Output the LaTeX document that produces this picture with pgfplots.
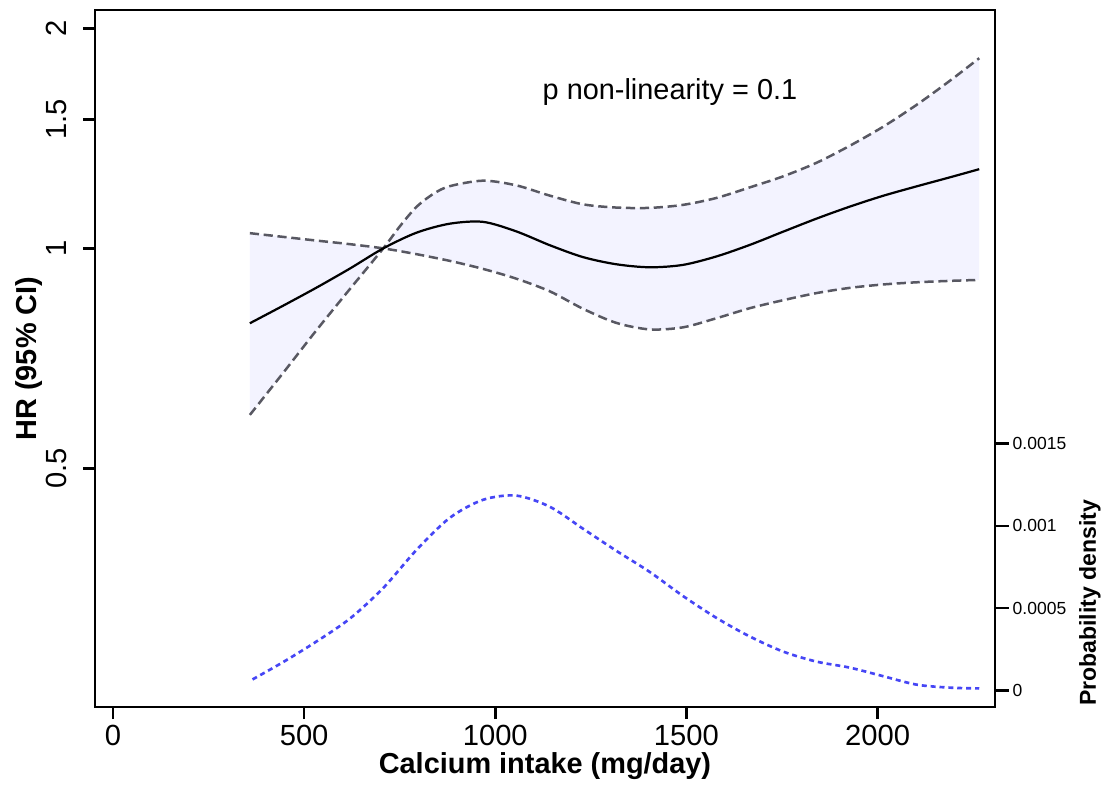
\documentclass[border=0pt]{standalone}
\usepackage{fontspec}
\setmainfont{Liberation Sans}
\usepackage{pgfplots}
\usepackage{pgfplotstable}
\pgfplotsset{compat=1.18}
\usepgfplotslibrary{fillbetween}
\usetikzlibrary{calc}
\definecolor{cigray}{RGB}{88,88,98}
\definecolor{cifill}{RGB}{243,243,255}
\definecolor{dens}{RGB}{70,70,245}

\pgfplotstableread{
x hr
358 0.5918
445 0.6755
532 0.7725
620 0.8802
707 1.0000
751 1.0730
794 1.1397
838 1.1873
881 1.2165
968 1.2377
1055 1.2196
1143 1.1806
1230 1.1487
1317 1.1372
1404 1.1361
1491 1.1469
1579 1.1724
1666 1.2119
1753 1.2547
1840 1.3092
1927 1.3812
2014 1.4664
2102 1.5716
2189 1.6952
2266 1.8207
}\upperci

\pgfplotstableread{
x hr
358 1.0491
445 1.0369
532 1.0249
620 1.0133
707 1.0000
794 0.9819
881 0.9614
968 0.9374
1055 0.9090
1143 0.8733
1230 0.8265
1317 0.7908
1404 0.7748
1491 0.7799
1579 0.8026
1666 0.8283
1753 0.8494
1840 0.8686
1927 0.8830
2014 0.8925
2102 0.8987
2189 0.9027
2266 0.9055
}\lowerci

\pgfplotstableread{
x hr
358 0.7900
445 0.8348
532 0.8835
620 0.9386
707 1.0000
794 1.0507
881 1.0809
968 1.0871
1055 1.0550
1143 1.0098
1230 0.9727
1317 0.9511
1404 0.9422
1491 0.9493
1579 0.9751
1666 1.0111
1753 1.0540
1840 1.0981
1927 1.1404
2014 1.1799
2102 1.2157
2189 1.2507
2266 1.2834
}\hrcurve

\pgfplotstableread{
x d
365 6.69e-5
445 1.721e-4
532 2.968e-4
620 4.368e-4
707 6.223e-4
794 8.534e-4
881 1.0481e-3
968 1.1576e-3
1055 1.1831e-3
1143 1.1150e-3
1230 9.812e-4
1317 8.474e-4
1404 7.196e-4
1491 5.736e-4
1579 4.398e-4
1666 3.273e-4
1753 2.360e-4
1840 1.752e-4
1927 1.387e-4
2014 8.70e-5
2102 3.53e-5
2189 1.70e-5
2266 1.22e-5
}\density

\begin{document}
\begin{tikzpicture}
\begin{axis}[name=main,
  width=324pt, height=251pt, scale only axis,
  xmin=-47.1, xmax=2307.1,
  ymode=log, ymin=0.2357, ymax=2.119,
  xtick={0,500,1000,1500,2000}, xticklabels={0,500,1000,1500,2000},
  ytick={0.5,1,1.5,2}, yticklabels={0.5,1,1.5,2},
  minor tick num=0,
  xtick pos=bottom, ytick pos=left,
  tick align=outside, major tick length=4.3pt,
  axis line style={line width=0.9pt},
  every tick/.style={black, line width=0.9pt},
  /pgf/number format/assume math mode=true,
  tick label style={font=\fontsize{10.5}{12}\selectfont},
  xticklabel style={yshift=1.2pt},
  yticklabel style={rotate=90, anchor=south, inner sep=5.7pt},
  xlabel={Calcium intake (mg/day)},
  ylabel={HR (95\% CI)},
  label style={font=\fontsize{10.4}{12}\selectfont\bfseries},
  xlabel style={at={(rel axis cs:0.5,0)}, anchor=center, yshift=-21.1pt},
  ylabel style={at={(rel axis cs:0,0.5)}, anchor=center, yshift=23.9pt},
]
\addplot[name path=upper, draw=none, smooth, forget plot] table[x=x, y=hr] {\upperci};
\addplot[name path=lower, draw=none, smooth, forget plot] table[x=x, y=hr] {\lowerci};
\addplot[cifill, draw=none] fill between[of=upper and lower];
\addplot[cigray, line width=0.9pt, dash pattern=on 3.3pt off 1.7pt, smooth] table[x=x, y=hr] {\upperci};
\addplot[cigray, line width=0.9pt, dash pattern=on 3.3pt off 1.7pt, smooth] table[x=x, y=hr] {\lowerci};
\addplot[black, line width=0.8pt, smooth] table[x=x, y=hr] {\hrcurve};
\node[font=\fontsize{10.4}{12}\selectfont] at (axis cs:1457,1.634) {p non-linearity = 0.1};
\end{axis}

\begin{axis}[at={(main.south west)}, anchor=south west,
  width=324pt, height=251pt, scale only axis,
  xmin=-47.1, xmax=2307.1,
  ymin=-1.016e-4, ymax=4.132e-3,
  axis y line*=right, hide x axis,
  ytick={0,0.0005,0.001,0.0015}, yticklabels={0,0.0005,0.001,0.0015},
  tick align=outside, major tick length=5pt,
  axis line style={line width=0.9pt},
  every tick/.style={black, line width=0.9pt},
  /pgf/number format/assume math mode=true,
  yticklabel style={font=\fontsize{6.3}{7}\selectfont, anchor=west, inner sep=1.2pt},
  ylabel={Probability density},
  ylabel style={font=\fontsize{8.3}{10}\selectfont\bfseries, at={(rel axis cs:1,0.1497)}, anchor=center, yshift=-34.2pt},
]
\addplot[dens, line width=0.95pt, dash pattern=on 1.8pt off 1.4pt, smooth] table[x=x, y=d] {\density};
\end{axis}
\pgfresetboundingbox
\path ($(main.south west)+(-34.2pt,-28.7pt)$) rectangle ($(main.north east)+(38.9pt,3.6pt)$);
\end{tikzpicture}
\end{document}
